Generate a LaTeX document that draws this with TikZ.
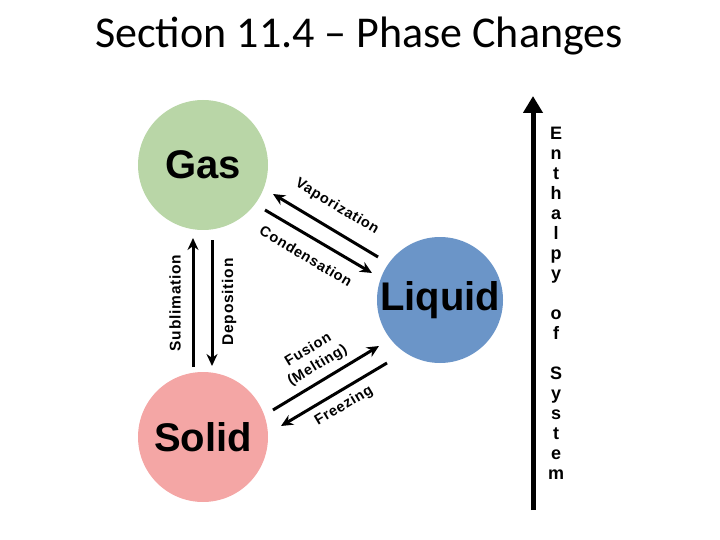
\documentclass[tikz,border=0pt]{standalone}
\usepackage{fontspec}
\setmainfont{Carlito}
\setsansfont{Liberation Sans}
\newfontfamily\lblfont{Liberation Sans}[LetterSpace=5]
\usetikzlibrary{arrows.meta, positioning, calc}
\definecolor{cgas}{HTML}{B9D6A7}
\definecolor{cliquid}{HTML}{6B95C8}
\definecolor{csolid}{HTML}{F4A6A5}
\tikzset{
  every picture/.style={line width=1.2pt},
  phase/.style={circle, fill=#1, minimum size=130pt, inner sep=0pt, font=\sffamily\bfseries\fontsize{40}{48}\selectfont},
  arrow/.style={-{Stealth[length=12pt, width=11pt]}, draw=black, line width=3pt},
  bigarrow/.style={-{Triangle[length=17pt, width=19pt]}, draw=black, line width=5pt},
  note/.style={font=\lblfont\bfseries\fontsize{14.5}{17}\selectfont, align=center, inner sep=1pt},
  title/.style={font=\fontsize{44}{50}\selectfont},
}
\begin{document}
\begin{tikzpicture}[x=1pt, y=-1pt]
  \useasboundingbox (0,0) rectangle (720,540);
  \node[title] (head) at (359,36) {Section 11.4 – Phase Changes};
  % phases
  \node[phase=cgas] (gas) at (203,165) {Gas};
  \node[phase=cliquid, minimum size=126pt] (liquid) at (440,300) {Liquid};
  \node[phase=csolid] (solid) at (203,437) {Solid};
  % gas <-> solid
  \coordinate (sub0) at (193,367);
  \coordinate (sub1) at (193,238);
  \coordinate (dep0) at (212,240);
  \coordinate (dep1) at (212,366);
  \draw[arrow] (sub0) -- (sub1);
  \draw[arrow] (dep0) -- (dep1);
  \node[note, rotate=90, font=\lblfont\bfseries\fontsize{15.5}{17}\selectfont] (sublab) at (175,303) {Sublimation};
  \node[note, rotate=90, font=\lblfont\bfseries\fontsize{15.5}{17}\selectfont] (deplab) at (229,302) {Deposition};
  % gas <-> liquid
  \coordinate (vap0) at (378,257);
  \coordinate (vap1) at (273,194);
  \coordinate (con0) at (265,210);
  \coordinate (con1) at (372,273);
  \draw[arrow] (vap0) -- (vap1);
  \draw[arrow] (con0) -- (con1);
  \node[note, rotate=-31] (vaplab) at (337,207) {Vaporization};
  \node[note, rotate=-31] (conlab) at (306,256) {Condensation};
  % solid <-> liquid
  \coordinate (fus0) at (273,410);
  \coordinate (fus1) at (379,346);
  \coordinate (fre0) at (387,363);
  \coordinate (fre1) at (281,426);
  \draw[arrow] (fus0) -- (fus1);
  \draw[arrow] (fre0) -- (fre1);
  \node[note, rotate=31, font=\lblfont\bfseries\fontsize{14.5}{18}\selectfont] (fuslab) at (313,358) {Fusion\\(Melting)};
  \node[note, rotate=31] (frelab) at (344,406) {Freezing};
  % enthalpy axis
  \coordinate (hbot) at (533,510);
  \coordinate (htop) at (533,96);
  \draw[bigarrow] (hbot) -- (htop);
  \node[note, font=\sffamily\bfseries\fontsize{18}{20}\selectfont] (hlab) at (556,303)
    {E\\n\\t\\h\\a\\l\\p\\y\\[20pt]o\\f\\[20pt]S\\y\\s\\t\\e\\m};
\end{tikzpicture}
\end{document}
